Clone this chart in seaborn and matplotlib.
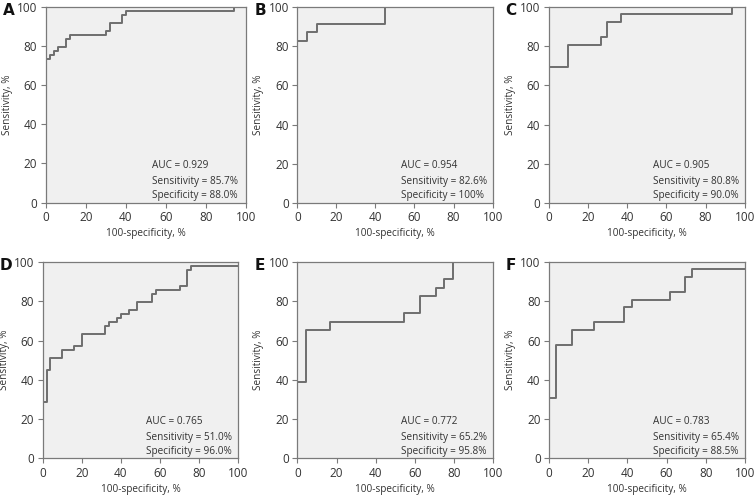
import matplotlib
matplotlib.use("Agg")
import matplotlib.pyplot as plt
import seaborn as sns
import pandas as pd

# ROC steps (x = 100-specificity %, y = sensitivity %)
fpr_a = [0, 2, 4, 6, 10, 12, 30, 32, 38, 40, 94, 100]
tpr_a = [73.5, 75.5, 77.6, 79.6, 83.7, 85.7, 87.8, 91.8, 95.9, 98.0, 100, 100]

fpr_b = [0, 5, 10, 45, 100]
tpr_b = [82.6, 87.0, 91.3, 100, 100]

fpr_c = [0, 10, 26.7, 30, 36.7, 93.3, 100]
tpr_c = [69.2, 80.8, 84.6, 92.3, 96.2, 100, 100]

fpr_d = [0, 2, 4, 10, 16, 20, 32, 34, 38, 40, 44, 48, 56, 58, 70, 74, 76, 100]
tpr_d = [28.6, 44.9, 51.0, 55.1, 57.1, 63.3, 67.3, 69.4, 71.4, 73.5, 75.5, 79.6,
         83.7, 85.7, 87.8, 95.9, 98.0, 98.0]

fpr_e = [0, 4.2, 16.7, 54.2, 62.5, 70.8, 75.0, 79.2, 100]
tpr_e = [39.1, 65.2, 69.6, 73.9, 82.6, 87.0, 91.3, 100, 100]

fpr_f = [0, 3.8, 11.5, 23.1, 38.5, 42.3, 61.5, 69.2, 73.1, 100]
tpr_f = [30.8, 57.7, 65.4, 69.2, 76.9, 80.8, 84.6, 92.3, 96.2, 96.2]

panel_letters = ["A", "B", "C", "D", "E", "F"]
auc_values = ["0.929", "0.954", "0.905", "0.765", "0.772", "0.783"]
sens_values = ["85.7%", "82.6%", "80.8%", "51.0%", "65.2%", "65.4%"]
spec_values = ["88.0%", "100%", "90.0%", "96.0%", "95.8%", "88.5%"]
ticks = [0, 20, 40, 60, 80, 100]

curves = [(fpr_a, tpr_a), (fpr_b, tpr_b), (fpr_c, tpr_c),
          (fpr_d, tpr_d), (fpr_e, tpr_e), (fpr_f, tpr_f)]

# axes rectangles in figure fractions (left, bottom, width, height)
positions = [
    (0.0606, 0.5905, 0.2660, 0.3960),
    (0.3943, 0.5900, 0.2590, 0.3960),
    (0.7277, 0.5900, 0.2600, 0.3960),
    (0.0566, 0.0741, 0.2594, 0.3966),
    (0.3943, 0.0741, 0.2600, 0.3966),
    (0.7281, 0.0741, 0.2600, 0.3966),
]

sns.set_style("ticks")
plt.rcParams["font.family"] = ["Open Sans", "DejaVu Sans"]
text_color = "#333333"
spine_color = "#7a7a7a"
line_color = "#6e6e6e"

fig = plt.figure(figsize=(7.54, 4.95), dpi=100)

for i, (fpr, tpr) in enumerate(curves):
    ax = fig.add_axes(positions[i])
    ax.set_facecolor("#f0f0f0")
    df = pd.DataFrame({"fpr": fpr, "tpr": tpr})
    sns.lineplot(data=df, x="fpr", y="tpr", ax=ax, estimator=None, sort=False,
                 drawstyle="steps-post", color=line_color, linewidth=1.4)
    ax.set_xlim(0, 100)
    ax.set_ylim(0, 100)
    ax.set_xticks(ticks)
    ax.set_yticks(ticks)
    ax.tick_params(labelsize=8.5, colors=spine_color, labelcolor=text_color,
                   length=3.5, width=0.8, pad=2.5)
    for sp in ax.spines.values():
        sp.set_color(spine_color)
        sp.set_linewidth(0.9)
    ax.set_xlabel("100-specificity, %", fontsize=7.2, color=text_color, labelpad=3)
    ax.set_ylabel("Sensitivity, %", fontsize=7.2, color=text_color, labelpad=3)

    ax.text(0.53, 0.19, f"AUC = {auc_values[i]}", transform=ax.transAxes,
            fontsize=7.2, color=text_color, va="center", ha="left")
    ax.text(0.53, 0.108, f"Sensitivity = {sens_values[i]}", transform=ax.transAxes,
            fontsize=7.2, color=text_color, va="center", ha="left")
    ax.text(0.53, 0.036, f"Specificity = {spec_values[i]}", transform=ax.transAxes,
            fontsize=7.2, color=text_color, va="center", ha="left")

    ax.annotate(panel_letters[i], xy=(0, 1), xycoords="axes fraction",
                xytext=(-31, 3), textcoords="offset points", ha="left", va="top",
                fontsize=11, fontweight="bold", color="#111111",
                family="DejaVu Sans")

fig.savefig("out.png", dpi=100)
